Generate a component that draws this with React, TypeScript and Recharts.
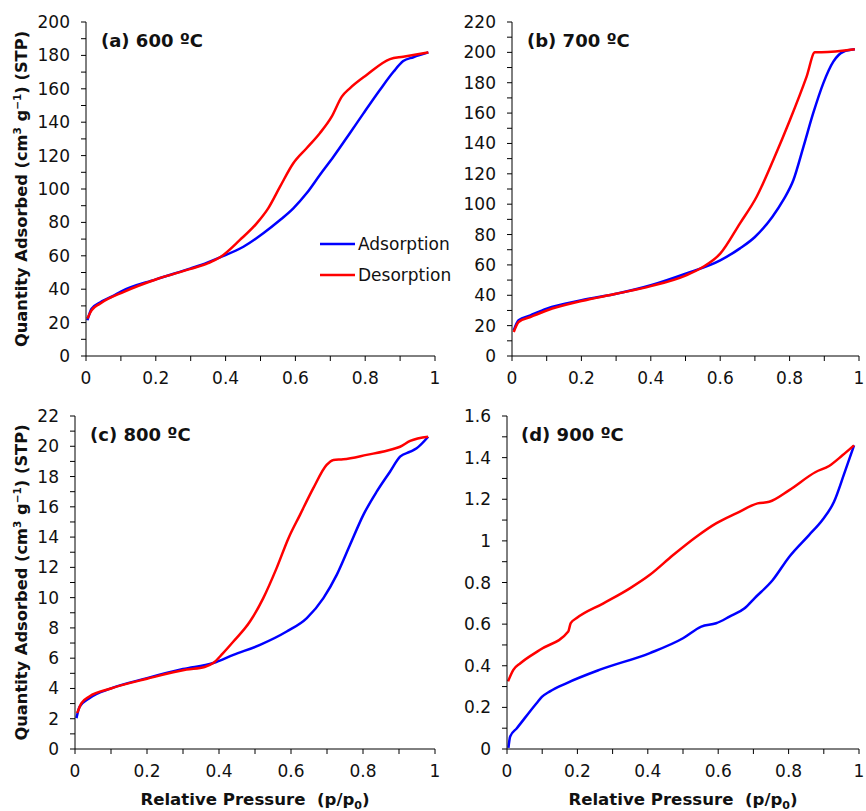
import React from 'react';
import { LineChart, Line, XAxis, YAxis, Legend, Label } from 'recharts';

const FONT = '"DejaVu Sans", "Liberation Sans", Arial, sans-serif';
const INK = '#111';
const BLUE = '#0000FF';
const RED = '#FF0000';

// ---- Panel (a) 600 ºC ----
const aAdsP = [0.004, 0.016, 0.04, 0.078, 0.1, 0.2, 0.3, 0.33, 0.384, 0.451, 0.508, 0.556, 0.594, 0.632, 0.67, 0.709, 0.756, 0.795, 0.842, 0.881, 0.909, 0.938, 0.981];
const aAdsQ = [21.4, 28.3, 32.0, 36.0, 38.6, 45.9, 52.5, 54.6, 59.1, 65.4, 73.5, 81.4, 88.4, 97.4, 108.4, 119.3, 133.4, 145.3, 159.3, 170.2, 176.6, 178.9, 181.8];
const aDesP = [0.004, 0.016, 0.04, 0.107, 0.2, 0.3, 0.35, 0.384, 0.441, 0.489, 0.522, 0.556, 0.594, 0.632, 0.67, 0.704, 0.733, 0.756, 0.804, 0.871, 0.909, 0.981];
const aDesQ = [22.4, 27.3, 31.3, 38.3, 45.8, 52.2, 55.6, 59.1, 69.5, 79.4, 88.4, 101.4, 115.4, 124.4, 133.4, 143.3, 155.3, 160.3, 168.3, 177.8, 179.2, 181.8];

// ---- Panel (b) 700 ºC ----
const bAdsP = [0.005, 0.019, 0.053, 0.1, 0.2, 0.3, 0.4, 0.5, 0.6, 0.657, 0.7, 0.75, 0.782, 0.811, 0.84, 0.868, 0.897, 0.926, 0.955, 0.988];
const bAdsQ = [16.9, 23.5, 26.8, 31.2, 36.7, 41, 46.6, 54.2, 63, 70.9, 78.4, 91.6, 102.8, 115.9, 137.9, 159.9, 179.6, 193.9, 200.4, 202];
const bDesP = [0.005, 0.019, 0.053, 0.1, 0.2, 0.3, 0.4, 0.5, 0.55, 0.6, 0.657, 0.705, 0.753, 0.801, 0.849, 0.873, 0.892, 0.988];
const bDesQ = [15.8, 22.4, 25.7, 30, 36.2, 41, 46, 53, 58.6, 67.4, 87.4, 104.9, 129.1, 155.4, 184, 200, 200, 202];

// ---- Panel (c) 800 ºC ----
const cAdsP = [0.004, 0.013, 0.04, 0.1, 0.2, 0.3, 0.384, 0.44, 0.514, 0.588, 0.644, 0.69, 0.727, 0.764, 0.801, 0.838, 0.875, 0.903, 0.931, 0.949, 0.981];
const cAdsQ = [2.04, 2.8, 3.36, 4.0, 4.68, 5.28, 5.68, 6.22, 6.88, 7.76, 8.65, 9.97, 11.5, 13.49, 15.47, 17.0, 18.32, 19.31, 19.64, 19.87, 20.63];
const cDesP = [0.006, 0.018, 0.04, 0.1, 0.2, 0.31, 0.36, 0.384, 0.41, 0.44, 0.486, 0.523, 0.56, 0.593, 0.625, 0.662, 0.699, 0.718, 0.745, 0.81, 0.884, 0.903, 0.931, 0.981];
const cDesQ = [2.37, 3.03, 3.47, 4.0, 4.64, 5.25, 5.42, 5.68, 6.3, 7.1, 8.42, 9.97, 11.95, 13.93, 15.47, 17.23, 18.77, 19.1, 19.14, 19.43, 19.82, 19.97, 20.35, 20.63];

// ---- Panel (d) 900 ºC ----
const dAdsP = [0.004, 0.009, 0.028, 0.084, 0.099, 0.122, 0.17, 0.264, 0.406, 0.5, 0.552, 0.594, 0.632, 0.675, 0.703, 0.755, 0.802, 0.858, 0.896, 0.929, 0.958, 0.986];
const dAdsQ = [0.005, 0.06, 0.1, 0.22, 0.25, 0.277, 0.317, 0.381, 0.461, 0.532, 0.588, 0.604, 0.636, 0.676, 0.724, 0.812, 0.924, 1.028, 1.1, 1.188, 1.323, 1.459];
const dDesP = [0.003, 0.018, 0.038, 0.094, 0.174, 0.181, 0.198, 0.274, 0.349, 0.406, 0.472, 0.538, 0.594, 0.651, 0.712, 0.745, 0.802, 0.877, 0.915, 0.953, 0.986];
const dDesQ = [0.325, 0.38, 0.412, 0.477, 0.565, 0.605, 0.629, 0.7, 0.772, 0.837, 0.932, 1.02, 1.084, 1.132, 1.18, 1.188, 1.244, 1.331, 1.36, 1.411, 1.459];

// ---- Ticks ----
const xTicks = [0, 0.1, 0.2, 0.3, 0.4, 0.5, 0.6, 0.7, 0.8, 0.9, 1];
const xTickLabels = ['0', '', '0.2', '', '0.4', '', '0.6', '', '0.8', '', '1'];
const yTicksA = [0, 10, 20, 30, 40, 50, 60, 70, 80, 90, 100, 110, 120, 130, 140, 150, 160, 170, 180, 190, 200];
const yTicksB = [0, 10, 20, 30, 40, 50, 60, 70, 80, 90, 100, 110, 120, 130, 140, 150, 160, 170, 180, 190, 200, 210, 220];
const yTicksC = [0, 1, 2, 3, 4, 5, 6, 7, 8, 9, 10, 11, 12, 13, 14, 15, 16, 17, 18, 19, 20, 21, 22];
const yTicksD = [0, 0.1, 0.2, 0.3, 0.4, 0.5, 0.6, 0.7, 0.8, 0.9, 1, 1.1, 1.2, 1.3, 1.4, 1.5, 1.6];
const yLabelsD = ['0', '', '0.2', '', '0.4', '', '0.6', '', '0.8', '', '1', '', '1.2', '', '1.4', '', '1.6'];

const SERIES_NAMES = ['Adsorption', 'Desorption'];
const PANEL_TITLES = ['(a) 600 ºC', '(b) 700 ºC', '(c) 800 ºC', '(d) 900 ºC'];

const zip = (p: number[], q: number[]) => p.map((v, i) => ({ p: v, q: q[i] }));

const xFmt = (v: number) => {
  const i = xTicks.findIndex((t) => Math.abs(t - v) < 1e-9);
  return i >= 0 ? xTickLabels[i] : '';
};
const evenFmt = (step: number) => (v: number) => (Math.round(v / step) % 2 === 0 ? String(v) : '');
const dFmt = (v: number) => {
  const i = yTicksD.findIndex((t) => Math.abs(t - v) < 1e-9);
  return i >= 0 ? yLabelsD[i] : '';
};

const tickStyle = { fontSize: 17, fontFamily: FONT, fill: INK };

const YTitle = (props: any) => {
  const vb = props.viewBox || {};
  const x = (vb.x ?? 0) + 26.5;
  const y = (vb.y ?? 0) + (vb.height ?? 0) / 2;
  return (
    <text
      x={x}
      y={y}
      transform={`rotate(-90, ${x}, ${y})`}
      textAnchor="middle"
      fontFamily={FONT}
      fontWeight="bold"
      fontSize={16.3}
      fill={INK}
    >
      Quantity Adsorbed (cm
      <tspan dy={-6} fontSize={10.5}>3</tspan>
      <tspan dy={6}> g</tspan>
      <tspan dy={-6} fontSize={10.5}>−1</tspan>
      <tspan dy={6}>) (STP)</tspan>
    </text>
  );
};

const XTitle = (props: any) => {
  const vb = props.viewBox || {};
  const x = (vb.x ?? 0) + (vb.width ?? 0) / 2;
  const y = (vb.y ?? 0) + 56;
  return (
    <text
      x={x}
      y={y}
      textAnchor="middle"
      fontFamily={FONT}
      fontWeight="bold"
      fontSize={16.6}
      fill={INK}
      style={{ whiteSpace: 'pre' }}
    >
      {'Relative Pressure  (p/p'}
      <tspan dy={4} fontSize={11}>0</tspan>
      <tspan dy={-4}>)</tspan>
    </text>
  );
};

const renderLegend = (props: any) => {
  const payload = props.payload || [];
  return (
    <svg width={150} height={62} style={{ display: 'block', overflow: 'visible' }}>
      {payload.map((e: any, i: number) => (
        <g key={i}>
          <line x1={2} x2={37} y1={16 + i * 31} y2={16 + i * 31} stroke={e.color} strokeWidth={2.5} />
          <text x={40} y={22 + i * 31} fontFamily={FONT} fontSize={17} fill={INK}>
            {e.value}
          </text>
        </g>
      ))}
    </svg>
  );
};

type PanelProps = {
  left: number;
  top: number;
  width: number;
  height: number;
  yWidth: number;
  xHeight: number;
  marginTop: number;
  marginRight: number;
  yMax: number;
  yTicks: number[];
  yFmt: (v: number) => string;
  ads: { p: number; q: number }[];
  des: { p: number; q: number }[];
  title: string;
  titleLeft: number;
  titleTop: number;
  showYTitle?: boolean;
  showXTitle?: boolean;
  showLegend?: boolean;
};

const Panel = (pr: PanelProps) => (
  <>
    <div style={{ position: 'absolute', left: pr.left, top: pr.top }}>
      <LineChart
        width={pr.width}
        height={pr.height}
        margin={{ top: pr.marginTop, right: pr.marginRight, left: 0, bottom: 0 }}
      >
        <XAxis
          dataKey="p"
          type="number"
          domain={[0, 1]}
          ticks={xTicks}
          interval={0}
          tickFormatter={xFmt}
          tickSize={5}
          tickMargin={11}
          height={pr.xHeight}
          allowDataOverflow
          stroke="#000"
          tick={tickStyle}
        >
          {pr.showXTitle ? <Label content={(p: any) => <XTitle {...p} />} /> : null}
        </XAxis>
        <YAxis
          dataKey="q"
          type="number"
          domain={[0, pr.yMax]}
          ticks={pr.yTicks}
          interval={0}
          tickFormatter={pr.yFmt}
          tickSize={5}
          tickMargin={11}
          width={pr.yWidth}
          allowDataOverflow
          stroke="#000"
          tick={tickStyle}
        >
          {pr.showYTitle ? <Label content={(p: any) => <YTitle {...p} />} /> : null}
        </YAxis>
        {pr.showLegend ? (
          <Legend
            layout="vertical"
            align="center"
            verticalAlign="middle"
            content={renderLegend}
            wrapperStyle={{ position: 'absolute', left: 318, top: 228, width: 150, height: 62 }}
          />
        ) : null}
        <Line
          data={pr.ads}
          dataKey="q"
          name={SERIES_NAMES[0]}
          type="monotone"
          stroke={BLUE}
          strokeWidth={2.5}
          dot={false}
          isAnimationActive={false}
        />
        <Line
          data={pr.des}
          dataKey="q"
          name={SERIES_NAMES[1]}
          type="monotone"
          stroke={RED}
          strokeWidth={2.5}
          dot={false}
          isAnimationActive={false}
        />
      </LineChart>
    </div>
    <div
      style={{
        position: 'absolute',
        left: pr.titleLeft,
        top: pr.titleTop,
        fontFamily: FONT,
        fontWeight: 'bold',
        fontSize: 18,
        lineHeight: '20px',
        color: INK,
        whiteSpace: 'nowrap',
      }}
    >
      {pr.title}
    </div>
  </>
);

export default function App() {
  return (
    <div style={{ position: 'absolute', left: 0, top: 0, width: 866, height: 811, background: '#fff', overflow: 'hidden' }}>
      <Panel
        left={0}
        top={0}
        width={445}
        height={400}
        yWidth={86}
        xHeight={44}
        marginTop={22}
        marginRight={10}
        yMax={200}
        yTicks={yTicksA}
        yFmt={evenFmt(10)}
        ads={zip(aAdsP, aAdsQ)}
        des={zip(aDesP, aDesQ)}
        title={PANEL_TITLES[0]}
        titleLeft={101}
        titleTop={31}
        showYTitle
        showLegend
      />
      <Panel
        left={440}
        top={0}
        width={426}
        height={400}
        yWidth={72}
        xHeight={44}
        marginTop={22}
        marginRight={7}
        yMax={220}
        yTicks={yTicksB}
        yFmt={evenFmt(10)}
        ads={zip(bAdsP, bAdsQ)}
        des={zip(bDesP, bDesQ)}
        title={PANEL_TITLES[1]}
        titleLeft={527}
        titleTop={31}
      />
      <Panel
        left={0}
        top={400}
        width={445}
        height={411}
        yWidth={75}
        xHeight={62}
        marginTop={16}
        marginRight={10}
        yMax={22}
        yTicks={yTicksC}
        yFmt={evenFmt(1)}
        ads={zip(cAdsP, cAdsQ)}
        des={zip(cDesP, cDesQ)}
        title={PANEL_TITLES[2]}
        titleLeft={90}
        titleTop={425.2}
        showYTitle
        showXTitle
      />
      <Panel
        left={440}
        top={400}
        width={426}
        height={411}
        yWidth={67}
        xHeight={62}
        marginTop={16}
        marginRight={7}
        yMax={1.6}
        yTicks={yTicksD}
        yFmt={dFmt}
        ads={zip(dAdsP, dAdsQ)}
        des={zip(dDesP, dDesQ)}
        title={PANEL_TITLES[3]}
        titleLeft={521}
        titleTop={425.2}
        showXTitle
      />
    </div>
  );
}
